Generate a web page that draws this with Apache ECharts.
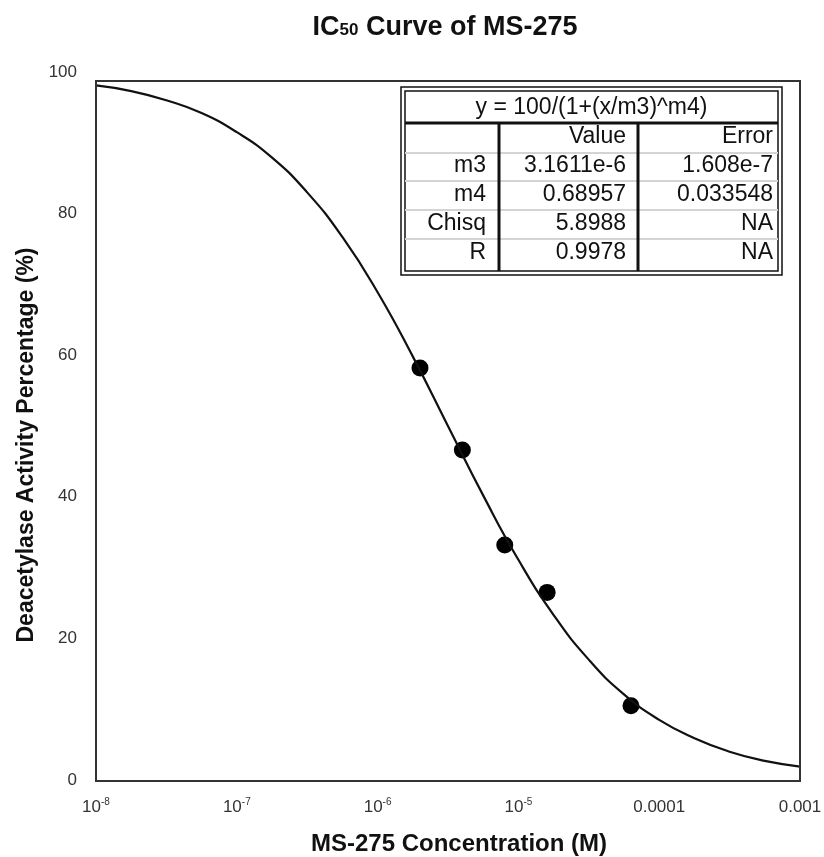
<!DOCTYPE html>
<html>
<head>
<meta charset="utf-8">
<script src="https://cdn.jsdelivr.net/npm/echarts@6/dist/echarts.min.js"></script>
<style>
  html, body { margin: 0; padding: 0; background: #fff; }
  #chart { width: 824px; height: 857px; }
</style>
</head>
<body>
<div id="chart"></div>
<script>
// measured points
const concentration = [2e-6, 4e-6, 8e-6, 1.6e-5, 6.3e-5];
const activity = [58.2, 46.6, 33.2, 26.5, 10.5];

// fitted curve
const curveX = [1e-8, 1.78e-8, 3.16e-8, 5.62e-8, 1e-7, 1.78e-7, 3.16e-7, 5.62e-7, 1e-6, 1.78e-6,
  3.16e-6, 5.62e-6, 1e-5, 1.78e-5, 3.16e-5, 5.62e-5, 1e-4, 1.78e-4, 3.16e-4, 5.62e-4, 1e-3];
const curveY = [98.1, 97.3, 96.0, 94.2, 91.5, 87.9, 83.0, 76.7, 68.9, 59.8,
  50.0, 40.2, 31.1, 23.3, 17.0, 12.1, 8.5, 5.9, 4.0, 2.7, 1.9];

// x tick labels, 10^-8 ... 10^-3
const xTickLabels = [['10', '-8'], ['10', '-7'], ['10', '-6'], ['10', '-5'], ['0.0001', ''], ['0.001', '']];

// fit results box
const tableTitle = 'y = 100/(1+(x/m3)^m4)';
const tableHead = ['', 'Value', 'Error'];
const tableRows = [
  ['m3', '3.1611e-6', '1.608e-7'],
  ['m4', '0.68957', '0.033548'],
  ['Chisq', '5.8988', 'NA'],
  ['R', '0.9978', 'NA']
];

const FONT = 'Liberation Sans, Arial, sans-serif';

function buildTable() {
  const L = 405, R = 778, T = 91, B = 271;
  const colX = [499, 638];
  const textRight = [486, 626, 773];
  const rowY = [137, 166, 195, 224, 253];
  const sepY = [153, 181, 210, 239];
  const items = [];
  items.push({ type: 'rect', shape: { x: 401, y: 87, width: 381, height: 188 },
    style: { fill: '#fff', stroke: '#111', lineWidth: 1.5 } });
  items.push({ type: 'rect', shape: { x: L, y: T, width: R - L, height: B - T },
    style: { fill: '#fff', stroke: '#111', lineWidth: 1.5 } });
  sepY.forEach(y => items.push({ type: 'line', shape: { x1: L, y1: y, x2: R, y2: y },
    style: { stroke: '#d4d4d4', lineWidth: 2 } }));
  items.push({ type: 'line', shape: { x1: L, y1: 123, x2: R, y2: 123 },
    style: { stroke: '#111', lineWidth: 3 } });
  colX.forEach(x => items.push({ type: 'line', shape: { x1: x, y1: 123, x2: x, y2: B },
    style: { stroke: '#111', lineWidth: 3 } }));
  items.push({ type: 'text', x: (L + R) / 2, y: 108,
    style: { text: tableTitle, font: '23px ' + FONT, fill: '#111', textAlign: 'center', textVerticalAlign: 'middle' } });
  [tableHead].concat(tableRows).forEach((row, r) => {
    row.forEach((cell, c) => {
      if (!cell) return;
      items.push({ type: 'text', x: textRight[c], y: rowY[r],
        style: { text: cell, font: '23px ' + FONT, fill: '#111', textAlign: 'right', textVerticalAlign: 'middle' } });
    });
  });
  return items;
}

const chart = echarts.init(document.getElementById('chart'));

const option = {
  animation: false,
  backgroundColor: '#fff',
  grid: { left: 96, right: 24, top: 72, bottom: 77, containLabel: false, outerBoundsMode: 'none' },
  xAxis: {
    type: 'log',
    logBase: 10,
    min: 1e-8,
    max: 1e-3,
    splitNumber: 5,
    axisLine: { show: false },
    axisTick: { show: false },
    splitLine: { show: false },
    axisLabel: {
      margin: 17,
      showMinLabel: true,
      showMaxLabel: true,
      formatter: function (v) {
        const t = xTickLabels[Math.round(Math.log10(v)) + 8];
        if (!t) return '';
        return t[1] ? '{b|' + t[0] + '}{s|' + t[1] + '}' : '{b|' + t[0] + '}';
      },
      rich: {
        b: { fontSize: 17, lineHeight: 20, fontFamily: FONT, color: '#333' },
        s: { fontSize: 10, lineHeight: 10, verticalAlign: 'top', fontFamily: FONT, color: '#333' }
      }
    },
    name: 'MS-275 Concentration (M)',
    nameLocation: 'middle',
    nameGap: 52,
    nameTextStyle: { fontSize: 24, fontWeight: 'bold', fontFamily: FONT, color: '#111', padding: [0, 0, 0, 22] }
  },
  yAxis: {
    type: 'value',
    min: 0,
    max: 100,
    interval: 20,
    axisLine: { show: false },
    axisTick: { show: false },
    splitLine: { show: false },
    axisLabel: { margin: 19, fontSize: 17, fontFamily: FONT, color: '#333' },
    name: 'Deacetylase Activity Percentage (%)',
    nameLocation: 'middle',
    nameGap: 58,
    nameTextStyle: { fontSize: 23, fontWeight: 'bold', fontFamily: FONT, color: '#111', padding: [0, 38, 0, 0] }
  },
  graphic: [
    { type: 'rect', shape: { x: 96, y: 81, width: 704, height: 700 },
      style: { fill: 'none', stroke: '#333', lineWidth: 2 }, z: 10 },
    { type: 'text', x: 445, y: 28,
      style: {
        text: '{a|IC}{b|50}{a| Curve of MS-275}',
        textAlign: 'center', textVerticalAlign: 'middle',
        rich: {
          a: { fontSize: 27, fontWeight: 'bold', fontFamily: FONT, fill: '#111', lineHeight: 30, verticalAlign: 'middle' },
          b: { fontSize: 17, fontWeight: 'bold', fontFamily: FONT, fill: '#111', lineHeight: 18, verticalAlign: 'middle', padding: [4, 0, 0, 0] }
        }
      }
    },
    { type: 'group', z: 20, children: buildTable() }
  ],
  series: [
    {
      name: 'fit',
      type: 'line',
      data: curveX.map((x, i) => [x, curveY[i]]),
      smooth: true,
      showSymbol: false,
      symbol: 'none',
      lineStyle: { color: '#111', width: 2.2 }
    },
    {
      name: 'data',
      type: 'scatter',
      data: concentration.map((x, i) => [x, activity[i]]),
      symbolSize: 17,
      itemStyle: { color: '#000', opacity: 1 }
    }
  ]
};

chart.setOption(option);
</script>
</body>
</html>
